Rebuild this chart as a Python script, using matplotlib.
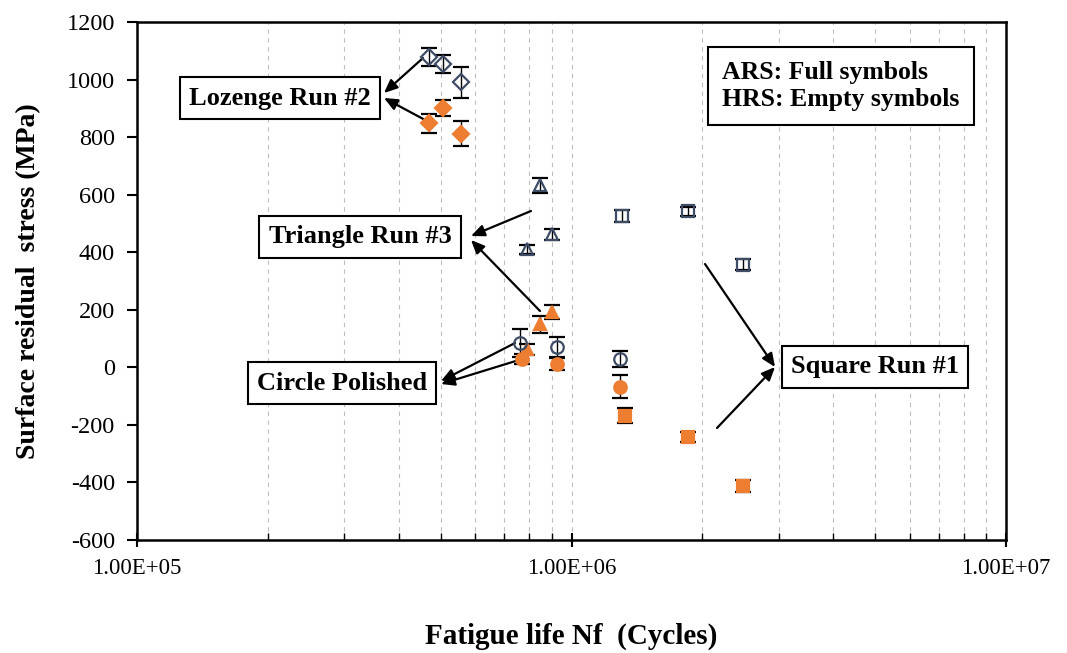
import numpy as np
import matplotlib.pyplot as plt
from matplotlib.ticker import LogLocator, NullFormatter, FixedLocator

plt.rcParams['font.family'] = ['Liberation Serif', 'DejaVu Serif']
plt.rcParams['axes.unicode_minus'] = False

# Lozenge Run #2
loz_x_hrs = [4.70e5, 5.06e5, 5.57e5]
loz_y_hrs = [1078, 1055, 990]
loz_e_hrs = [30, 32, 55]
loz_x_ars = [4.70e5, 5.06e5, 5.57e5]
loz_y_ars = [849, 901, 812]
loz_e_ars = [33, 28, 43]

# Triangle Run #3
tri_x_hrs = [8.46e5, 9.02e5, 7.90e5]
tri_y_hrs = [632, 462, 410]
tri_e_hrs = [25, 18, 15]
tri_x_ars = [9.04e5, 8.46e5, 7.90e5]
tri_y_ars = [192, 150, 62]
tri_e_ars = [25, 30, 20]

# Circle Polished
cir_x_hrs = [7.61e5, 9.27e5, 1.29e6]
cir_y_hrs = [85, 72, 28]
cir_e_hrs = [48, 35, 28]
cir_x_ars = [7.69e5, 9.27e5, 1.29e6]
cir_y_ars = [28, 12, -68]
cir_e_ars = [18, 22, 40]

# Square Run #1
sq_x_hrs = [1.31e6, 1.85e6, 2.48e6]
sq_y_hrs = [525, 542, 357]
sq_e_hrs = [20, 15, 20]
sq_x_ars = [1.33e6, 1.85e6, 2.48e6]
sq_y_ars = [-168, -242, -412]
sq_e_ars = [25, 18, 20]

blue = '#3E4C66'
orange = '#ED7D31'

W, H = 1067, 653
fig = plt.figure(figsize=(W / 100, H / 100), dpi=100)
ax = fig.add_axes([137 / W, (H - 540) / H, 869 / W, 518 / H])


def px(x, y):
    return (x / W, 1 - y / H)


def series(x, y, e, marker, filled, ms=9):
    if filled:
        fc, ec = orange, orange
    else:
        fc, ec = 'none', blue
    ax.errorbar(x, y, yerr=e, fmt=marker, ms=ms, mfc=fc, mec=ec, mew=1.6,
                ecolor='black', elinewidth=1.0, capsize=6, capthick=1.2, zorder=3)


series(loz_x_hrs, loz_y_hrs, loz_e_hrs, 'D', False, 8)
series(loz_x_ars, loz_y_ars, loz_e_ars, 'D', True, 8)
series(tri_x_hrs, tri_y_hrs, tri_e_hrs, '^', False)
series(tri_x_ars, tri_y_ars, tri_e_ars, '^', True)
series(cir_x_hrs, cir_y_hrs, cir_e_hrs, 'o', False)
series(cir_x_ars, cir_y_ars, cir_e_ars, 'o', True)
series(sq_x_hrs, sq_y_hrs, sq_e_hrs, 's', False, 8)
series(sq_x_ars, sq_y_ars, sq_e_ars, 's', True, 8)

ax.set_xscale('log')
ax.set_xlim(1e5, 1e7)
ax.set_ylim(-600, 1200)
ax.set_yticks(np.arange(-600, 1201, 200))
ax.xaxis.set_major_locator(FixedLocator([1e5, 1e6, 1e7]))
ax.set_xticklabels(['1.00E+05', '1.00E+06', '1.00E+07'])
ax.xaxis.set_minor_locator(LogLocator(base=10, subs=np.arange(2, 10)))
ax.xaxis.set_minor_formatter(NullFormatter())
ax.grid(True, which='both', axis='x', linestyle=(0, (4, 4)), color='#bfbfbf', lw=0.8)
ax.set_axisbelow(True)

for s in ax.spines.values():
    s.set_linewidth(1.8)
ax.tick_params(axis='x', which='major', direction='inout', length=10, width=1.5,
               labelsize=16.5, pad=8)
ax.tick_params(axis='x', which='minor', direction='in', length=5, width=1.0)
ax.tick_params(axis='y', direction='out', length=7, width=1.5, labelsize=17.5, pad=9)

ax.set_ylabel('Surface residual  stress (MPa)', fontsize=20, fontweight='bold', labelpad=18)
fig.text(*px(571, 636), 'Fatigue life Nf  (Cycles)', fontsize=21, fontweight='bold',
         ha='center', va='center')

box = dict(boxstyle='square,pad=0.35', fc='white', ec='black', lw=1.5)
labels = [
    ('Lozenge Run #2', (280, 98)),
    ('Triangle Run #3', (360, 237)),
    ('Circle Polished', (342, 383)),
    ('Square Run #1', (875, 367)),
]
for txt, (x, y) in labels:
    fig.text(*px(x, y), txt, fontsize=19, fontweight='bold', ha='center', va='center',
             bbox=box, zorder=5)

fig.text(*px(722, 86), 'ARS: Full symbols\nHRS: Empty symbols', fontsize=18.5,
         fontweight='bold', ha='left', va='center', linespacing=1.25,
         bbox=dict(boxstyle='square,pad=0.55', fc='white', ec='black', lw=1.5))

arrows = [
    ((423, 58), (384, 93)),
    ((427, 121), (384, 98)),
    ((531, 211), (471, 236)),
    ((540, 311), (471, 240)),
    ((515, 343), (441, 381)),
    ((519, 360), (441, 384)),
    ((705, 264), (775, 367)),
    ((717, 428), (775, 367)),
]
for tail, tip in arrows:
    ax.annotate('', xy=px(*tip), xytext=px(*tail), xycoords='figure fraction',
                textcoords='figure fraction',
                arrowprops=dict(arrowstyle='-|>,head_length=0.8,head_width=0.35',
                                color='black', lw=1.6, shrinkA=0, shrinkB=0))

fig.savefig('out.png', dpi=100)
